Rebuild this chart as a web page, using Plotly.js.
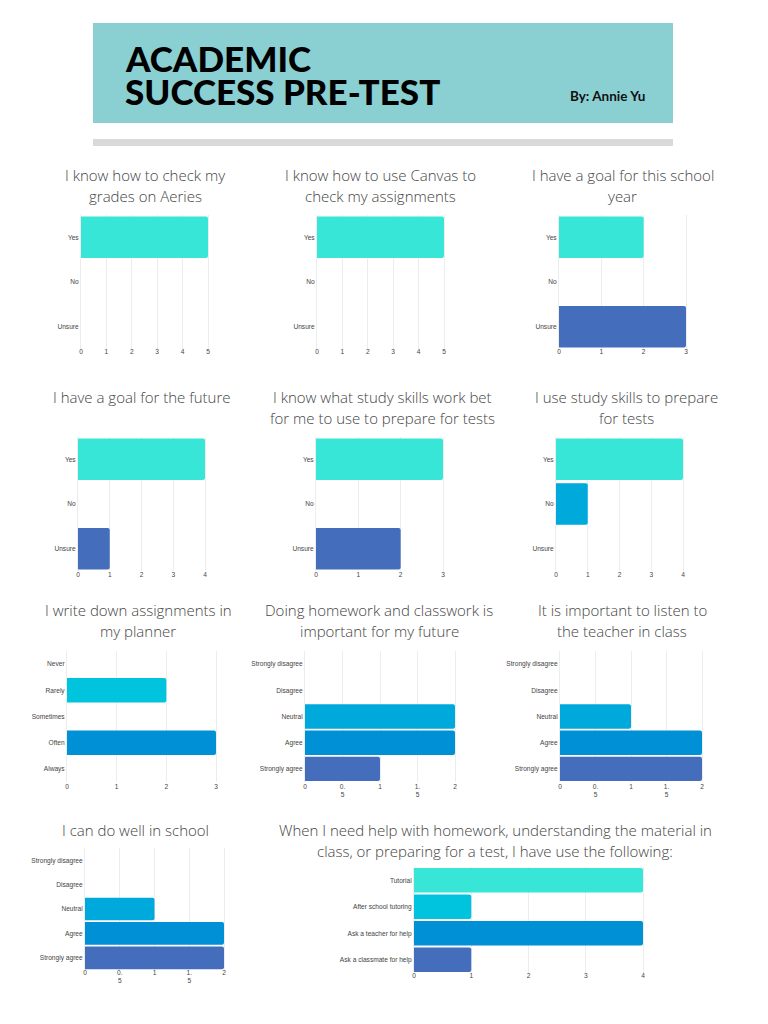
<!DOCTYPE html>
<html>
<head>
<meta charset="utf-8">
<script src="https://cdn.plot.ly/plotly-3.0.1.min.js"></script>
<style>html,body{margin:0;padding:0;background:#fff}#chart{width:768px;height:1024px}</style>
</head>
<body>
<div id="chart"></div>
<script>
// ---- Data ----
const yesNo = ["Yes", "No", "Unsure"];
const agree = ["Strongly disagree", "Disagree", "Neutral", "Agree", "Strongly agree"];
const freq = ["Never", "Rarely", "Sometimes", "Often", "Always"];
const helpKinds = ["Tutorial", "After school tutoring", "Ask a teacher for help", "Ask a classmate for help"];

const grades = [5, 0, 0];
const canvas = [5, 0, 0];
const goalYear = [2, 0, 3];
const goalFuture = [4, 0, 1];
const knowSkills = [3, 0, 2];
const useSkills = [4, 1, 0];
const planner = [0, 2, 0, 3, 0];
const homework = [0, 0, 2, 2, 1];
const listen = [0, 0, 1, 2, 2];
const doWell = [0, 0, 1, 2, 2];
const helpUsed = [4, 1, 4, 1];

const titles = [
  ["I know how to check my", "grades on Aeries"],
  ["I know how to use Canvas to", "check my assignments"],
  ["I have a goal for this school", "year"],
  ["I have a goal for the future"],
  ["I know what study skills work bet", "for me to use to prepare for tests"],
  ["I use study skills to prepare", "for tests"],
  ["I write down assignments in", "my planner"],
  ["Doing homework and classwork is", "important for my future"],
  ["It is important to listen to", "the teacher in class"],
  ["I can do well in school"],
  ["When I need help with homework, understanding the material in", "class, or preparing for a test, I have use the following:"]
];

// ---- Styles and placement ----
const W = 768, H = 1024;
const teal = "#38E6D8", cyan = "#00A9DC", sky = "#00C3DE", blue = "#0090D6", indigo = "#446DBB";
const ynColors = [teal, cyan, indigo];
const agreeColors = [teal, sky, cyan, blue, indigo];
const freqColors = [teal, sky, cyan, blue, indigo];
const helpColors = [teal, sky, blue, indigo];
const halfTicks = [0, 0.5, 1, 1.5, 2];
const halfText = ["0", "0.<br>5", "1", "1.<br>5", "2"];
const gridColor = "#EDEDED";
const tickFont = {size: 6.6, color: "#444"};

// box: x0,x1,top,bottom in page pixels; tx,ty: title centre x and y of first line
const panels = [
  {cats: yesNo, vals: grades, colors: ynColors, max: 5, box: [81, 208, 215, 349], tx: 145, ty: 175, so: -3},
  {cats: yesNo, vals: canvas, colors: ynColors, max: 5, box: [317, 444, 215, 349], tx: 380, ty: 175, so: -3},
  {cats: yesNo, vals: goalYear, colors: ynColors, max: 3, box: [559, 686, 215, 349], tx: 622.5, ty: 175, so: -3},
  {cats: yesNo, vals: goalFuture, colors: ynColors, max: 4, box: [78, 205, 437, 571], tx: 142, ty: 397, so: -2},
  {cats: yesNo, vals: knowSkills, colors: ynColors, max: 3, box: [316, 443, 437, 571], tx: 382, ty: 397, so: -2},
  {cats: yesNo, vals: useSkills, colors: ynColors, max: 4, box: [556, 683, 437, 571], tx: 626, ty: 397, so: -2},
  {cats: freq, vals: planner, colors: freqColors, max: 3, box: [67, 216, 651, 782], tx: 138, ty: 609.5, so: -1},
  {cats: agree, vals: homework, colors: agreeColors, max: 2, box: [305, 455, 651, 782], tx: 379, ty: 609.5, so: -1, half: true},
  {cats: agree, vals: listen, colors: agreeColors, max: 2, box: [560, 702, 651, 782], tx: 622, ty: 609.5, so: -1, half: true},
  {cats: agree, vals: doWell, colors: agreeColors, max: 2, box: [85, 224, 848, 970], tx: 135, ty: 829.5, so: -3, half: true},
  {cats: helpKinds, vals: helpUsed, colors: helpColors, max: 4, box: [414, 643, 867, 973], tx: 495, ty: 830, so: -3}
];

const traces = [];
const layout = {
  width: W, height: H, autosize: false,
  margin: {l: 0, r: 0, t: 0, b: 0},
  paper_bgcolor: "#fff", plot_bgcolor: "rgba(0,0,0,0)",
  showlegend: false, bargap: 0.07,
  font: {family: "Liberation Sans, Arial, sans-serif"},
  shapes: [
    {type: "rect", xref: "paper", yref: "paper", x0: 93 / W, x1: 673 / W, y0: 1 - 123 / H, y1: 1 - 23 / H, fillcolor: "#8AD0D3", line: {width: 0}, layer: "below"},
    {type: "rect", xref: "paper", yref: "paper", x0: 93 / W, x1: 673 / W, y0: 1 - 146 / H, y1: 1 - 139 / H, fillcolor: "#D9D9D9", line: {width: 0}, layer: "below"}
  ],
  annotations: [
    {text: "ACADEMIC", x: 124 / W, y: 1 - 57.5 / H, xanchor: "left", yanchor: "middle", font: {family: "Lato", size: 35, color: "#000", weight: 900}},
    {text: "SUCCESS PRE-TEST", x: 124 / W, y: 1 - 91 / H, xanchor: "left", yanchor: "middle", font: {family: "Lato", size: 35, color: "#000", weight: 900}},
    {text: "By: Annie Yu", x: 568.5 / W, y: 1 - 95.5 / H, xanchor: "left", yanchor: "middle", font: {family: "Lato", size: 13.5, color: "#111", weight: 700}}
  ].map(a => Object.assign(a, {xref: "paper", yref: "paper", showarrow: false, borderpad: 0}))
};

panels.forEach((p, i) => {
  const s = i === 0 ? "" : String(i + 1);
  traces.push({
    type: "bar", orientation: "h", x: p.vals, y: p.cats, xaxis: "x" + s, yaxis: "y" + s,
    marker: {color: p.colors, cornerradius: 2, line: {width: 0}},
    hoverinfo: "x+y"
  });
  const [x0, x1, top, bot] = p.box;
  const xa = {
    domain: [x0 / W, x1 / W], range: [0, p.max], anchor: "y" + s, fixedrange: true,
    showgrid: true, gridcolor: gridColor, gridwidth: 1, zeroline: false,
    showline: false, ticks: "", tickfont: tickFont, ticklabelstandoff: p.so, automargin: false
  };
  if (p.half) { xa.tickmode = "array"; xa.tickvals = halfTicks; xa.ticktext = halfText; }
  else { xa.dtick = 1; }
  layout["xaxis" + s] = xa;
  layout["yaxis" + s] = {
    domain: [1 - bot / H, 1 - top / H], type: "category", categoryorder: "array", categoryarray: p.cats,
    range: [p.cats.length - 0.5, -0.5], anchor: "x" + s, fixedrange: true,
    showgrid: false, zeroline: false, showline: true, mirror: true, linecolor: gridColor, linewidth: 1,
    layer: "below traces", ticks: "", tickfont: tickFont, automargin: false
  };
  titles[i].forEach((line, k) => {
    layout.annotations.push({
      text: line, xref: "paper", yref: "paper", x: p.tx / W, y: 1 - (p.ty + 21 * k) / H,
      xanchor: "center", yanchor: "middle", align: "center", showarrow: false,
      font: {family: "Open Sans", size: 15, color: "#444", weight: 300}
    });
  });
});

Plotly.newPlot("chart", traces, layout, {displayModeBar: false, staticPlot: true});
</script>
</body>
</html>
